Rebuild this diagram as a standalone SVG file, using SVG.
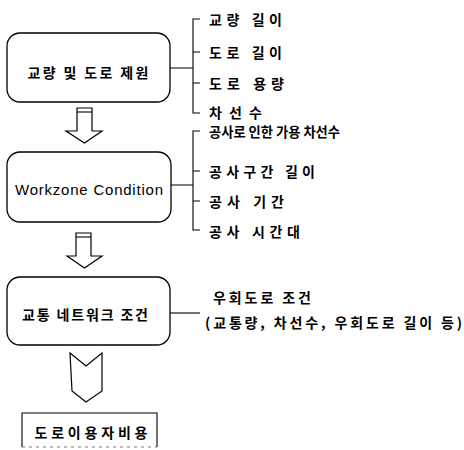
<svg xmlns="http://www.w3.org/2000/svg" width="464" height="450" viewBox="0 0 464 450">
<style>
  .box{fill:#fff;stroke:#000;stroke-width:1.3}
  .ln{fill:none;stroke:#000;stroke-width:1.1}
  .arr{fill:#fff;stroke:#000;stroke-width:1.2;stroke-linejoin:miter}
  text{font-family:"Noto Sans CJK KR","Liberation Sans",sans-serif;font-size:14px;font-weight:bold;fill:#000;dominant-baseline:central}
  .c{text-anchor:middle}
  .sm{font-size:13.5px}
  .lat{font-family:"Liberation Sans",Arial,sans-serif;font-size:15px;font-weight:normal}
</style>
<rect width="464" height="450" fill="#fff"/>
<g id="node-specs">
  <rect class="box" x="7" y="33" width="163" height="69" rx="13"/>
  <text x="88" y="72" class="c" textLength="121" lengthAdjust="spacing">교량 및 도로 제원</text>
</g>
<g id="node-workzone">
  <rect class="box" x="7" y="152" width="164" height="70" rx="13"/>
  <text x="89" y="189" class="c lat" textLength="148" lengthAdjust="spacing">Workzone Condition</text>
</g>
<g id="node-network">
  <rect class="box" x="7" y="277" width="163" height="68" rx="13"/>
  <text x="85" y="314" class="c" textLength="126" lengthAdjust="spacing">교통 네트워크 조건</text>
</g>
<g id="node-cost">
  <path class="ln" d="M22,447 L22,413 L157,413 L157,447"/>
  <path d="M22,447 L157,447" fill="none" stroke="#555" stroke-width="0.8" stroke-dasharray="3,4"/>
  <text x="91" y="432" class="c" textLength="113" lengthAdjust="spacing">도로이용자비용</text>
</g>
<g id="list-specs">
  <text x="209" y="19" textLength="73" lengthAdjust="spacing">교량 길이</text>
  <text x="209" y="52" textLength="73" lengthAdjust="spacing">도로 길이</text>
  <text x="209" y="83" textLength="75" lengthAdjust="spacing">도로 용량</text>
  <text x="209" y="112" textLength="53" lengthAdjust="spacing">차선수</text>
</g>
<g id="list-workzone">
  <text x="209" y="131" class="sm" textLength="131" lengthAdjust="spacingAndGlyphs">공사로 인한 가용 차선수</text>
  <text x="209" y="171" textLength="106" lengthAdjust="spacing">공사구간 길이</text>
  <text x="209" y="201" textLength="75" lengthAdjust="spacing">공사 기간</text>
  <text x="209" y="231" textLength="91" lengthAdjust="spacing">공사 시간대</text>
</g>
<g id="list-network">
  <text x="213" y="297" textLength="98" lengthAdjust="spacing">우회도로 조건</text>
  <text x="205" y="322" textLength="257" lengthAdjust="spacing">(교통량, 차선수, 우회도로 길이 등)</text>
</g>
<g id="connectors">
  <path class="ln" d="M170,68 L193,68 M200,19 L193,19 L193,113 L200,113 M193,52 L200,52 M193,83 L200,83"/>
  <path class="ln" d="M171,185 L193,185 M200,131 L193,131 L193,230 L200,230 M193,171 L200,171 M193,201 L200,201"/>
  <path class="ln" d="M170,313 L200,313"/>
  <path class="arr" d="M77,108 L92,108 L92,131 L102,131 L84.5,143 L66,131 L77,131 Z"/>
  <path class="ln" d="M77,112 L92,112"/>
  <path class="arr" d="M76,233 L91,233 L91,256 L102,256 L84.5,268 L67,256 L76,256 Z"/>
  <path class="ln" d="M76,237 L91,237"/>
  <path class="arr" d="M70,353 L86,366 L102,353 L102,391 L86,402 L72,391 Z"/>
</g>
</svg>
